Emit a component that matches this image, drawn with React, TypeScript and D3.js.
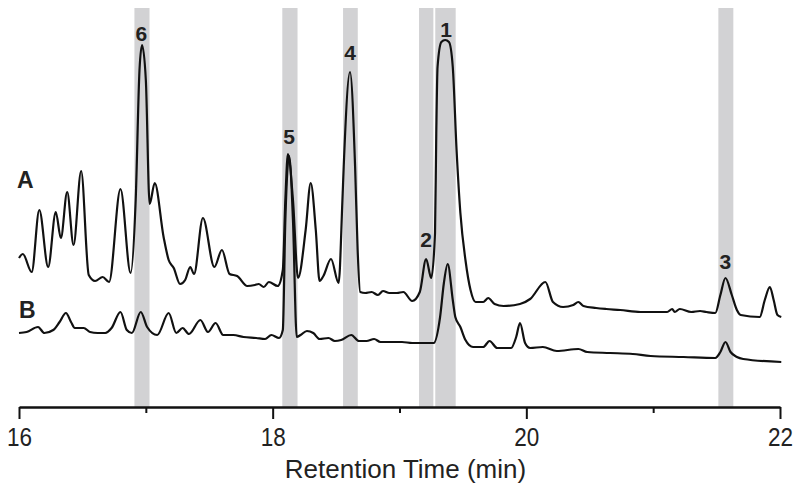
import React, { useEffect, useRef } from "react";
import * as d3 from "d3";

// trace A (upper chromatogram)
const timeA = [
  16.0, 16.03, 16.1, 16.16, 16.23, 16.29, 16.33, 16.38, 16.43, 16.49, 16.55, 16.6, 16.66, 16.71,
  16.8, 16.88, 16.92, 16.95, 16.97, 17.0, 17.03, 17.07, 17.14, 17.18, 17.22, 17.27, 17.31, 17.35,
  17.38, 17.45, 17.54, 17.6, 17.66, 17.72, 17.8, 17.86, 17.89, 17.93, 17.97, 18.04, 18.08, 18.1,
  18.12, 18.16, 18.2, 18.26, 18.3, 18.34, 18.37, 18.4, 18.46, 18.52, 18.55, 18.56, 18.61, 18.65,
  18.67, 18.69, 18.73, 18.78, 18.83, 18.87, 18.92, 18.98, 19.03, 19.1, 19.16, 19.21, 19.25, 19.28,
  19.29, 19.3, 19.33, 19.36, 19.39, 19.42, 19.45, 19.48, 19.52, 19.56, 19.6, 19.66, 19.7, 19.75,
  19.82, 19.95, 20.03, 20.15, 20.21, 20.29, 20.37, 20.41, 20.45, 20.55, 20.63, 20.74, 20.9, 21.11,
  21.15, 21.17, 21.21, 21.3, 21.37, 21.42, 21.49, 21.53, 21.57, 21.62, 21.66, 21.69, 21.84, 21.88,
  21.92, 21.95, 21.98, 22.01
];
const signalA = [
  149, 153, 135, 197, 140, 195, 169, 215, 162, 236, 132, 126, 130, 125,
  218, 134, 207, 337, 362, 327, 203, 224, 170, 147, 139, 123, 127, 140,
  133, 189, 140, 157, 133, 131, 121, 122, 123, 120, 125, 121, 137, 207,
  253, 207, 129, 177, 224, 177, 126, 131, 148, 124, 207, 240, 335, 240,
  157, 115, 114, 115, 112, 116, 114, 114, 115, 106, 115, 148, 129, 174,
  274, 340, 365, 367, 365, 340, 257, 194, 147, 117, 105, 105, 109, 103,
  101, 103, 108, 125, 105, 100, 102, 105, 101, 99, 98, 97, 95, 95,
  98, 95, 98, 95, 96, 95, 94, 112, 129, 112, 97, 92, 90, 107,
  120, 107, 92, 90
];

// trace B (lower chromatogram)
const timeB = [
  16.0, 16.06, 16.15, 16.2, 16.27, 16.32, 16.37, 16.41, 16.44, 16.51, 16.56, 16.62, 16.68, 16.73,
  16.8, 16.85, 16.89, 16.96, 17.01, 17.09, 17.18, 17.24, 17.29, 17.34, 17.43, 17.49, 17.55, 17.61,
  17.69, 17.77, 17.87, 17.94, 17.99, 18.05, 18.08, 18.1, 18.13, 18.16, 18.19, 18.22, 18.27, 18.32,
  18.37, 18.44, 18.49, 18.54, 18.62, 18.68, 18.74, 18.8, 18.85, 18.95, 19.02, 19.1, 19.19, 19.27,
  19.32, 19.35, 19.38, 19.42, 19.44, 19.48, 19.52, 19.58, 19.66, 19.71, 19.77, 19.88, 19.92, 19.95,
  19.99, 20.03, 20.13, 20.24, 20.41, 20.48, 20.66, 20.84, 20.98, 21.24, 21.49, 21.53, 21.57, 21.61,
  21.66, 21.71, 22.01
];
const signalB = [
  74, 75, 80, 74, 77, 85, 94, 85, 79, 79, 75, 74, 74, 79,
  95, 77, 74, 95, 80, 72, 94, 74, 79, 73, 87, 75, 84, 72,
  72, 70, 69, 68, 72, 69, 77, 187, 251, 187, 70, 72, 76, 74,
  68, 69, 66, 67, 72, 66, 66, 68, 65, 65, 65, 64, 64, 64,
  90, 124, 143, 107, 90, 80, 67, 60, 60, 66, 59, 59, 70, 84,
  64, 59, 60, 56, 58, 55, 54, 53, 51, 50, 49, 55, 65, 55,
  50, 48, 45
];

// highlighted peaks
const bandStart = [16.91, 18.076, 18.555, 19.154, 19.282, 21.514];
const bandEnd = [17.029, 18.196, 18.671, 19.267, 19.443, 21.632];
const peakLabels = ["6", "5", "4", "2", "1", "3"];
const labelTime = [16.964, 18.129, 18.61, 19.209, 19.367, 21.57];
const labelSignal = [366, 263, 347, 160, 370, 138];

const traceNames = ["A", "B"];
const xTicks = [16, 18, 20, 22];
const xMinorTicks = [17, 19, 21];

const W = 800;
const H = 489;
const FONT = "Liberation Sans, Arial, sans-serif";

export default function App() {
  const axisRef = useRef<SVGGElement>(null);

  const x = d3.scaleLinear().domain([16, 22]).range([19, 780]);
  const y = d3.scaleLinear().domain([0, 400]).range([407, 7]);

  const line = d3
    .line<[number, number]>()
    .x(d => x(d[0]))
    .y(d => y(d[1]))
    .curve(d3.curveMonotoneX);

  const ptsA = timeA.map((t, i) => [t, signalA[i]] as [number, number]);
  const ptsB = timeB.map((t, i) => [t, signalB[i]] as [number, number]);

  useEffect(() => {
    const g = d3.select(axisRef.current);
    g.selectAll("*").remove();
    const minor = g.append("g").call(
      d3.axisBottom(x).tickValues(xMinorTicks).tickSize(6).tickSizeOuter(0).tickFormat(() => "")
    );
    minor.select(".domain").remove();
    minor.selectAll("line").attr("stroke", "#111").attr("stroke-width", 2);
    const major = g.append("g").call(
      d3.axisBottom(x).tickValues(xTicks).tickSize(12).tickSizeOuter(0).tickFormat(d3.format("d"))
    );
    major.select(".domain").attr("stroke", "#111").attr("stroke-width", 2.4);
    major.selectAll("line").attr("stroke", "#111").attr("stroke-width", 2);
    major
      .selectAll("text")
      .attr("y", 39)
      .attr("dy", 0)
      .attr("transform", "scale(0.9,1)")
      .attr("font-family", FONT)
      .attr("font-size", 25)
      .attr("fill", "#222");
  }, []);

  return (
    <svg
      width={W}
      height={H}
      style={{ position: "absolute", left: 0, top: 0, background: "#fff" }}
    >
      {bandStart.map((b, i) => (
        <rect
          key={i}
          x={x(b)}
          y={8}
          width={x(bandEnd[i]) - x(b)}
          height={y(0) - 8}
          fill="#d2d2d4"
        />
      ))}
      <path d={line(ptsA) || ""} fill="none" stroke="#111" strokeWidth={2.2} strokeLinejoin="round" />
      <path d={line(ptsB) || ""} fill="none" stroke="#111" strokeWidth={2.2} strokeLinejoin="round" />
      {peakLabels.map((l, i) => (
        <text
          key={l}
          x={x(labelTime[i])}
          y={y(labelSignal[i])}
          textAnchor="middle"
          fontFamily={FONT}
          fontWeight="bold"
          fontSize={21}
          fill="#222"
        >
          {l}
        </text>
      ))}
      <text x={17} y={188} fontFamily={FONT} fontWeight="bold" fontSize={23} fill="#222">
        {traceNames[0]}
      </text>
      <text x={19} y={318} fontFamily={FONT} fontWeight="bold" fontSize={23} fill="#222">
        {traceNames[1]}
      </text>
      <g ref={axisRef} transform={`translate(0,${y(0)})`} />
      <text
        x={(x(16) + x(22)) / 2 + 6}
        y={478}
        textAnchor="middle"
        fontFamily={FONT}
        fontSize={26}
        fill="#222"
      >
        Retention Time (min)
      </text>
    </svg>
  );
}
